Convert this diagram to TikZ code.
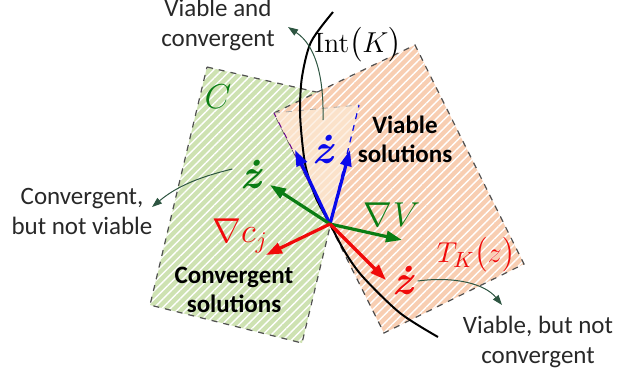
\documentclass[tikz,border=0pt]{standalone}
\usepackage{fontspec}
\setmainfont{Carlito}
\newfontfamily\lmfont{Latin Modern Roman}
\usepackage{amsmath}
\usetikzlibrary{arrows.meta,patterns.meta,positioning}
\definecolor{CFill}{RGB}{206,226,178}
\definecolor{TFill}{RGB}{248,206,178}
\definecolor{ConeFill}{RGB}{251,226,202}
\definecolor{EdgeGray}{RGB}{80,80,80}
\definecolor{BlueArr}{RGB}{10,10,235}
\definecolor{GreenArr}{RGB}{10,125,20}
\definecolor{RedArr}{RGB}{240,10,10}
\definecolor{PtrGreen}{RGB}{45,85,65}
\definecolor{DarkText}{RGB}{40,40,40}
\newcommand{\zdot}{{\lmfont\bfseries\itshape ż}}
\tikzset{
  region/.style={draw=EdgeGray,dashed,line width=0.6pt},
  stripes/.style={pattern={Lines[angle=45,distance=3pt,line width=0.7pt]},pattern color=white},
  vecb/.style={-{Triangle[length=8pt,width=5.5pt]},BlueArr,line width=1.6pt},
  vecg/.style={-{Triangle[length=8pt,width=5.5pt]},GreenArr,line width=1.6pt},
  vecr/.style={-{Triangle[length=8pt,width=5.5pt]},RedArr,line width=1.6pt},
  ptr/.style={-{Triangle[length=5pt,width=3.5pt]},PtrGreen,line width=0.5pt},
  note/.style={font=\fontsize{12.5}{15}\selectfont,align=center,text=DarkText},
  bnote/.style={font=\fontsize{12.5}{14.5}\selectfont\bfseries,align=center,text=black},
  mlab/.style={font=\fontsize{17}{20}\selectfont,inner sep=1pt},
  zlab/.style={font=\fontsize{21}{24}\selectfont,inner sep=1pt},
}
\begin{document}
\begin{tikzpicture}[x=0.5pt,y=-0.5pt]
  \useasboundingbox (0,0) rectangle (629,377);
  % sets C and T_K(z)
  \fill[CFill] (207,67) -- (360,102) -- (302,343) -- (150,305) -- cycle;
  \fill[stripes] (207,67) -- (360,102) -- (302,343) -- (150,305) -- cycle;
  \draw[region] (207,67) -- (360,102) -- (302,343) -- (150,305) -- cycle;
  \fill[TFill] (274,113) -- (415,45) -- (524,264) -- (384,333) -- cycle;
  \fill[stripes] (274,113) -- (415,45) -- (524,264) -- (384,333) -- cycle;
  \draw[region] (274,113) -- (415,45) -- (524,264) -- (384,333) -- cycle;
  % viable and convergent cone
  \coordinate (o) at (330,224);
  \fill[ConeFill] (o) -- (274,113) -- (359,105) -- cycle;
  \fill[stripes,opacity=0.5] (o) -- (274,113) -- (359,105) -- cycle;
  \draw[EdgeGray!50,dashed,line width=0.4pt] (274,113) -- (359,105);
  \draw[BlueArr!60!red,dashed,line width=0.5pt] (o) -- (274,113);
  \draw[BlueArr,dashed,line width=0.6pt] (o) -- (359,105);
  % boundary of K
  \draw[black,line width=1pt] plot[smooth] coordinates {(333,12) (311,42) (302,77) (300,110) (302,140) (306,168) (316,198) (o) (345,252) (363,277) (400,313) (438,337)};
  % vectors
  \coordinate (bl) at (295,150);
  \coordinate (br) at (350,150);
  \coordinate (gl) at (270,185);
  \coordinate (gr) at (402,240);
  \coordinate (rl) at (266,255);
  \coordinate (rr) at (386,280);
  \draw[vecb] (o) -- (bl);
  \draw[vecb] (o) -- (br);
  \draw[vecg] (o) -- (gl);
  \draw[vecg] (o) -- (gr);
  \draw[vecr] (o) -- (rl);
  \draw[vecr] (o) -- (rr);
  % labels
  \node[zlab,text=BlueArr] (zb) at (323,150) {\zdot};
  \node[zlab,text=GreenArr] (zg) at (251,175) {\zdot};
  \node[zlab,text=RedArr] (zr) at (403,281) {\zdot};
  \node[mlab,text=GreenArr] (gradv) at (392,215) {$\nabla V$};
  \node[mlab,text=RedArr] (gradc) at (240,236) {$\nabla c_{j}$};
  \node[mlab,font=\fontsize{15}{18}\selectfont,text=RedArr] (tk) at (476,255) {$T_{K}\bigl(z\bigr)$};
  \node[mlab,font=\fontsize{18}{20}\selectfont,text=GreenArr] (cset) at (218,97) {$C$};
  \node[mlab,font=\fontsize{14}{18}\selectfont,text=black] (intk) at (358,45) {{\lmfont Int}$\bigl(K\bigr)$};
  \node[bnote] (vsol) at (405,139) {Viable\\solutions};
  \node[bnote] (csol) at (234,290) {Convergent\\solutions};
  \node[note] (vc) at (218,25) {Viable and\\convergent};
  \node[note] (cnv) at (82,211) {Convergent,\\but not viable};
  \node[note] (vnc) at (538,342) {Viable, but not\\convergent};
  % pointers
  \coordinate (conein) at (323,120);
  \coordinate (vctip) at (288,27);
  \coordinate (cnvtip) at (152,207);
  \coordinate (vnctip) at (502,305);
  \draw[ptr] (conein) .. controls (324,75) and (315,45) .. (vctip);
  \draw[ptr] ([xshift=-3pt,yshift=3pt]zg.west) .. controls (195,178) and (175,188) .. (cnvtip);
  \draw[ptr] ([xshift=1pt]zr.east) .. controls (455,276) and (485,284) .. (vnctip);
\end{tikzpicture}
\end{document}
